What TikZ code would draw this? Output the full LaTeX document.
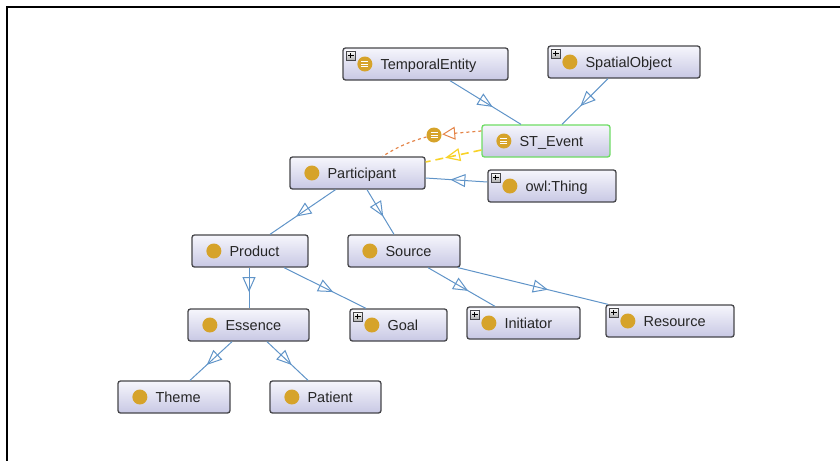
\documentclass[tikz,border=0pt]{standalone}
\usepackage{fontspec}
\setmainfont{Liberation Sans}
\usetikzlibrary{arrows.meta,decorations.markings}

\definecolor{edgeblue}{RGB}{96,148,200}
\definecolor{boxtop}{RGB}{246,246,252}
\definecolor{boxbot}{RGB}{200,200,228}
\definecolor{boxline}{RGB}{70,70,74}
\definecolor{icongold}{RGB}{214,163,42}
\definecolor{eqgreen}{RGB}{110,220,100}
\definecolor{proporange}{RGB}{228,132,72}
\definecolor{propyellow}{RGB}{248,210,40}

\tikzset{
  clsbox/.style={draw=boxline, line width=1.3pt, rounded corners=2.5pt,
    top color=boxtop, bottom color=boxbot, minimum height=32pt, inner sep=0pt},
  clstext/.style={anchor=base west, inner sep=0pt, text=black!85,
    font=\fontsize{14.5}{17}\selectfont},
  isa/.style={draw=edgeblue, line width=1pt, postaction={decorate},
    decoration={markings, mark=at position 0.6 with
      {\arrow[edgeblue,line width=1pt]{Triangle[open,length=15pt,width=13pt]}}}},
  proplink/.style={draw=proporange, line width=1.2pt, dash pattern=on 3pt off 3pt},
  typelink/.style={draw=propyellow, line width=1.6pt, dash pattern=on 8pt off 5pt,
    postaction={decorate},
    decoration={markings, mark=at position 0.65 with
      {\arrow[propyellow,solid,line width=1.2pt]{Triangle[open,length=15pt,width=13pt]}}}},
  propball/.style={circle, fill=icongold, minimum size=15pt, inner sep=0pt},
  eqlines/.pic={
    \draw[white, line width=0.9pt] (-3.5pt,2.6pt) -- (3.5pt,2.6pt)
      (-3.5pt,0pt) -- (3.5pt,0pt) (-3.5pt,-2.6pt) -- (3.5pt,-2.6pt);
  },
  plusbox/.pic={
    \draw[boxline, line width=0.6pt, top color=white, bottom color=black!30]
      (-4.5pt,-4.5pt) rectangle (4.5pt,4.5pt);
    \draw[black, line width=0.8pt] (-2.8pt,0pt) -- (2.8pt,0pt) (0pt,-2.8pt) -- (0pt,2.8pt);
  }
}

% class box: [extra style]{name}{position}{width}{text}
\newcommand{\owlclass}[5][]{%
  \node[clsbox, minimum width=#4pt, #1] (#2) at (#3) {};
  \fill[icongold] ([xshift=22.5pt]#2.west) circle (7.5pt);
  \node[clstext] (#2-txt) at ([shift={(38pt,-5pt)}]#2.west) {#5};
}

\begin{document}
\begin{tikzpicture}[x=1pt,y=-1pt]
  \useasboundingbox (0,0) rectangle (840,461);
  \draw[line width=1.3pt] (840,7) -- (7,7) -- (7,461);

  % classes
  \owlclass{tempent}{425.5,64}{165}{TemporalEntity}
  \owlclass{spatial}{624,62}{152}{SpatialObject}
  \owlclass[draw=eqgreen, line width=1.3pt]{stevent}{546,141}{128}{ST\_Event}
  \owlclass{part}{357.5,173}{135}{Participant}
  \owlclass{thing}{552,186}{128}{owl:Thing}
  \owlclass{product}{250,251}{116}{Product}
  \owlclass{source}{404,251}{112}{Source}
  \owlclass{essence}{248.5,325}{121}{Essence}
  \owlclass{goal}{398.5,325}{97}{Goal}
  \owlclass{init}{523.5,323}{113}{Initiator}
  \owlclass{resource}{670,321}{128}{Resource}
  \owlclass{theme}{174,397}{112}{Theme}
  \owlclass{patient}{325.5,397}{111}{Patient}

  % equivalence marks and expand boxes
  \pic at ([xshift=22.5pt]tempent.west) {eqlines};
  \pic at ([xshift=22.5pt]stevent.west) {eqlines};
  \foreach \c in {tempent,spatial,thing,goal,init,resource}
    \pic at ([shift={(8.5pt,-8pt)}]\c.north west) {plusbox};

  % subclass edges
  \draw[isa] ([xshift=24.5pt]tempent.south) -- ([xshift=-25pt]stevent.north);
  \draw[isa] ([xshift=-16pt]spatial.south) -- ([xshift=16pt]stevent.north);
  \draw[isa] ([yshift=4pt]thing.west) -- ([yshift=-5pt]part.east);
  \draw[isa] ([xshift=-22pt]part.south) -- ([xshift=20pt]product.north);
  \draw[isa] ([xshift=9.5pt]part.south) -- ([xshift=-10pt]source.north);
  \draw[isa] ([xshift=-1pt]product.south) -- ([xshift=0.5pt]essence.north);
  \draw[isa] ([xshift=34pt]product.south) -- ([xshift=-32.5pt]goal.north);
  \draw[isa] ([xshift=24pt]source.south) -- ([xshift=-28.5pt]init.north);
  \draw[isa] ([xshift=54pt]source.south) -- ([xshift=-62pt]resource.north);
  \draw[isa] ([xshift=-16.5pt]essence.south) -- ([xshift=16pt]theme.north);
  \draw[isa] ([xshift=18.5pt]essence.south) -- ([xshift=-17.5pt]patient.north);

  % property links
  \node[propball] (propicon) at (434,135) {};
  \pic at (propicon) {eqlines};
  \draw[proplink, -{Triangle[open,length=13pt,width=13pt,sep=0.5pt,line width=1pt]}]
    ([yshift=10pt]stevent.west) -- (propicon);
  \draw[proplink] (propicon) to[bend right=8] ([xshift=25pt]part.north);
  \draw[typelink] ([yshift=-9pt]stevent.west) -- ([yshift=11pt]part.east);
\end{tikzpicture}
\end{document}
